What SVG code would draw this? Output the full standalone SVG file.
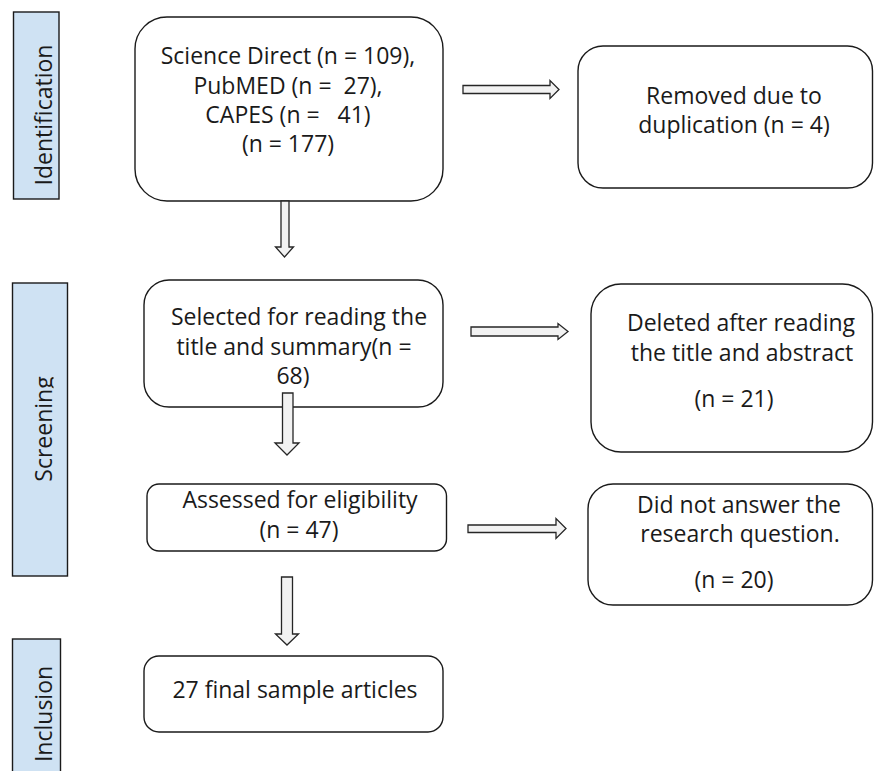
<svg xmlns="http://www.w3.org/2000/svg" width="874" height="771" viewBox="0 0 874 771">
<style>
.box{fill:#ffffff;stroke:#1a1a1a;stroke-width:1.4}
.lab{fill:#cfe2f3;stroke:#1a1a1a;stroke-width:1.4}
.arr{fill:#f2f2f2;stroke:#262626;stroke-width:1.3}
text{font-family:"Open Sans","Noto Sans","Liberation Sans",sans-serif;font-size:23px;fill:#1a1a1a;text-anchor:middle}
</style>
<defs>
<clipPath id="clipScr"><rect x="0" y="283" width="53.5" height="293"/></clipPath>
</defs>
<g id="label-identification">
<rect class="lab" x="13.5" y="12" width="45.5" height="187"/>
<text transform="translate(52,115) rotate(-90)">Identification</text>
</g>
<g id="label-screening">
<rect class="lab" x="12.5" y="283" width="55" height="293"/>
<g clip-path="url(#clipScr)">
<text transform="translate(52,429) rotate(-90)">Screening</text>
</g>
</g>
<g id="label-inclusion">
<rect class="lab" x="12.5" y="639" width="48" height="140"/>
<text transform="translate(52,714) rotate(-90)">Inclusion</text>
</g>
<g id="node-sources">
<rect class="box" x="135" y="17" width="308" height="184" rx="32"/>
<text x="288" y="64">Science Direct (n = 109),</text>
<text x="288" y="94" xml:space="preserve">PubMED (n =  27),</text>
<text x="288" y="123" xml:space="preserve">CAPES (n =   41)</text>
<text x="288" y="152">(n = 177)</text>
</g>
<g id="node-duplicates">
<rect class="box" x="578" y="46" width="294.5" height="142" rx="25"/>
<text x="734" y="104">Removed due to</text>
<text x="734" y="133">duplication (n = 4)</text>
</g>
<g id="node-selected">
<rect class="box" x="144" y="280" width="299" height="127" rx="25"/>
<text x="299" y="325">Selected for reading the</text>
<text x="294" y="355">title and summary(n =</text>
<text x="293" y="384">68)</text>
</g>
<g id="node-deleted">
<rect class="box" x="591" y="284" width="281.5" height="168" rx="30"/>
<text x="741" y="331">Deleted after reading</text>
<text x="742" y="361">the title and abstract</text>
<text x="734" y="407">(n = 21)</text>
</g>
<g id="node-assessed">
<rect class="box" x="147" y="484" width="299.5" height="67" rx="12"/>
<text x="300" y="508">Assessed for eligibility</text>
<text x="299" y="538">(n = 47)</text>
</g>
<g id="node-notanswer">
<rect class="box" x="588" y="484" width="284.5" height="121" rx="25"/>
<text x="739" y="513">Did not answer the</text>
<text x="740" y="542">research question.</text>
<text x="734" y="588">(n = 20)</text>
</g>
<g id="node-final">
<rect class="box" x="144" y="656" width="299" height="76" rx="15"/>
<text x="295" y="698">27 final sample articles</text>
</g>
<g id="connectors">
<path class="arr" d="M463,85.5 H550 V80.5 L559,89.5 L550,98.5 V93.5 H463 Z"/>
<path class="arr" d="M471,327 H558 V323.5 L568,331.5 L558,339.5 V336 H471 Z"/>
<path class="arr" d="M468,525 H556 V518.5 L566,528.5 L556,538.5 V532.5 H468 Z"/>
<path class="arr" d="M281,201 V247 H275.5 L284.5,257 L293.5,247 H289 V201 Z"/>
<path class="arr" d="M282.5,393 V443 H275 L287,455 L299,443 H293 V393 Z"/>
<path class="arr" d="M281.5,577 V634 H275.5 L287,645 L298.5,634 H292.5 V577 Z"/>
</g>
</svg>
